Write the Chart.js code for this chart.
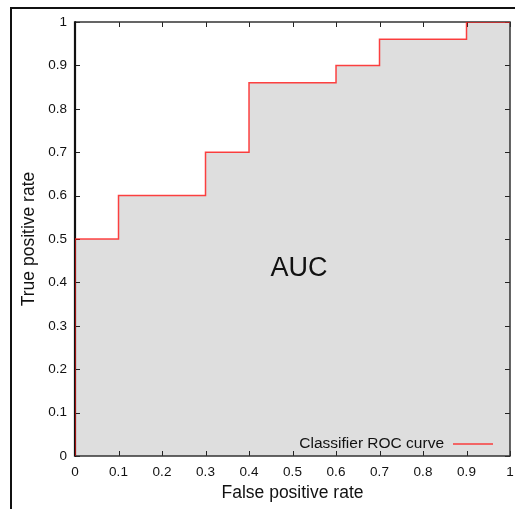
<!DOCTYPE html>
<html>
<head>
<meta charset="utf-8">
<script src="https://cdn.jsdelivr.net/npm/chart.js@4/dist/chart.umd.min.js"></script>
<style>
  html, body { margin: 0; padding: 0; width: 515px; height: 509px; overflow: hidden; background: #fff; }
  #frame { position: absolute; left: 10px; top: 7px; width: 700px; height: 700px;
           border-top: 2px solid #111; border-left: 2px solid #111; }
  #wrap { position: absolute; left: 0; top: 0; width: 515px; height: 509px; }
</style>
</head>
<body>
<div id="frame"></div>
<div id="wrap"><canvas id="c" width="515" height="509"></canvas></div>
<script>
// ---- data ----
const fpr = [0, 0, 0.1, 0.1, 0.3, 0.3, 0.4, 0.4, 0.6, 0.6, 0.7, 0.7, 0.9, 0.9, 1];
const tpr = [0, 0.5, 0.5, 0.6, 0.6, 0.7, 0.7, 0.86, 0.86, 0.9, 0.9, 0.96, 0.96, 1, 1];
const tickValues = [0, 0.1, 0.2, 0.3, 0.4, 0.5, 0.6, 0.7, 0.8, 0.9, 1];
const seriesLabel = 'Classifier ROC curve';
const areaLabel = 'AUC';
const xTitle = 'False positive rate';
const yTitle = 'True positive rate';

const points = fpr.map((v, i) => ({ x: v, y: tpr[i] }));
const FONT = "'Liberation Sans', Arial, Helvetica, sans-serif";
const LINE_COLOR = 'rgba(255,20,20,0.8)';

const decorPlugin = {
  id: 'decor',
  afterDatasetDraw(chart, args) {
    if (args.index !== 0) return;
    const { ctx, chartArea: a, scales: { x, y } } = chart;
    ctx.save();
    ctx.strokeStyle = '#222';
    ctx.lineWidth = 1;
    ctx.beginPath();
    x.ticks.forEach(t => {
      const px = Math.round(x.getPixelForValue(t.value)) + 0.5;
      ctx.moveTo(px, a.bottom); ctx.lineTo(px, a.bottom - 5);
      ctx.moveTo(px, a.top); ctx.lineTo(px, a.top + 5);
    });
    y.ticks.forEach(t => {
      const py = Math.round(y.getPixelForValue(t.value)) + 0.5;
      ctx.moveTo(a.left, py); ctx.lineTo(a.left + 5, py);
      ctx.moveTo(a.right, py); ctx.lineTo(a.right - 5, py);
    });
    ctx.stroke();
    // plot border
    ctx.lineWidth = 1.5;
    ctx.strokeStyle = '#333';
    ctx.beginPath();
    ctx.moveTo(a.left, a.top); ctx.lineTo(a.right, a.top);
    ctx.lineTo(a.right, a.bottom); ctx.lineTo(a.left, a.bottom);
    ctx.stroke();
    ctx.lineWidth = 2.2;
    ctx.strokeStyle = '#111';
    ctx.beginPath();
    ctx.moveTo(a.left, a.top - 0.75); ctx.lineTo(a.left, a.bottom + 0.75);
    ctx.stroke();
    ctx.restore();
  },
  afterDraw(chart) {
    const { ctx, chartArea: a, scales: { x, y } } = chart;
    ctx.save();
    // AUC label
    ctx.fillStyle = '#111';
    ctx.font = '27px ' + FONT;
    ctx.textAlign = 'center';
    ctx.textBaseline = 'middle';
    ctx.fillText(areaLabel, x.getPixelForValue(0.515), y.getPixelForValue(0.433));
    // legend
    const ds = chart.data.datasets[1];
    const ly = a.bottom - 12.5;
    ctx.font = '15.5px ' + FONT;
    ctx.textAlign = 'right';
    ctx.fillText(ds.label, a.right - 66, ly);
    ctx.strokeStyle = ds.borderColor;
    ctx.lineWidth = 1.5;
    ctx.beginPath();
    ctx.moveTo(a.right - 57, ly + 0.5);
    ctx.lineTo(a.right - 17, ly + 0.5);
    ctx.stroke();
    ctx.restore();
  }
};

const setTicks = scale => { scale.ticks = tickValues.map(v => ({ value: v })); };

new Chart(document.getElementById('c'), {
  type: 'line',
  data: {
    datasets: [
      {
        label: 'area',
        data: points,
        order: 2,
        borderWidth: 0,
        borderColor: 'rgba(0,0,0,0)',
        backgroundColor: '#dedede',
        fill: 'origin',
        pointRadius: 0,
        tension: 0
      },
      {
        label: seriesLabel,
        data: points,
        order: 1,
        borderColor: LINE_COLOR,
        borderWidth: 1.5,
        fill: false,
        pointRadius: 0,
        tension: 0
      }
    ]
  },
  options: {
    responsive: false,
    animation: false,
    events: [],
    layout: { padding: { top: 22, right: 5, left: 0, bottom: 0 } },
    plugins: { legend: { display: false }, tooltip: { enabled: false } },
    scales: {
      x: {
        type: 'linear',
        min: 0, max: 1,
        afterBuildTicks: setTicks,
        afterFit: s => { s.height = 53; s.paddingLeft = 0; s.paddingRight = 0; },
        grid: { display: false, drawTicks: false },
        border: { display: false },
        ticks: {
          padding: 8,
          color: '#111',
          font: { family: FONT, size: 13.5 },
          maxRotation: 0,
          callback: v => String(+v.toFixed(1))
        },
        title: {
          display: true,
          text: xTitle,
          color: '#111',
          font: { family: FONT, size: 17.5 },
          padding: { top: 0, bottom: 5.5 }
        }
      },
      y: {
        type: 'linear',
        min: 0, max: 1,
        afterBuildTicks: setTicks,
        afterFit: s => { s.width = 75; s.paddingTop = 0; s.paddingBottom = 0; },
        grid: { display: false, drawTicks: false },
        border: { display: false },
        ticks: {
          padding: 8,
          color: '#111',
          font: { family: FONT, size: 13.5 },
          callback: v => String(+v.toFixed(1))
        },
        title: {
          display: true,
          text: yTitle,
          color: '#111',
          font: { family: FONT, size: 17.5 },
          padding: { top: 19, bottom: 0 }
        }
      }
    }
  },
  plugins: [decorPlugin]
});
</script>
</body>
</html>
